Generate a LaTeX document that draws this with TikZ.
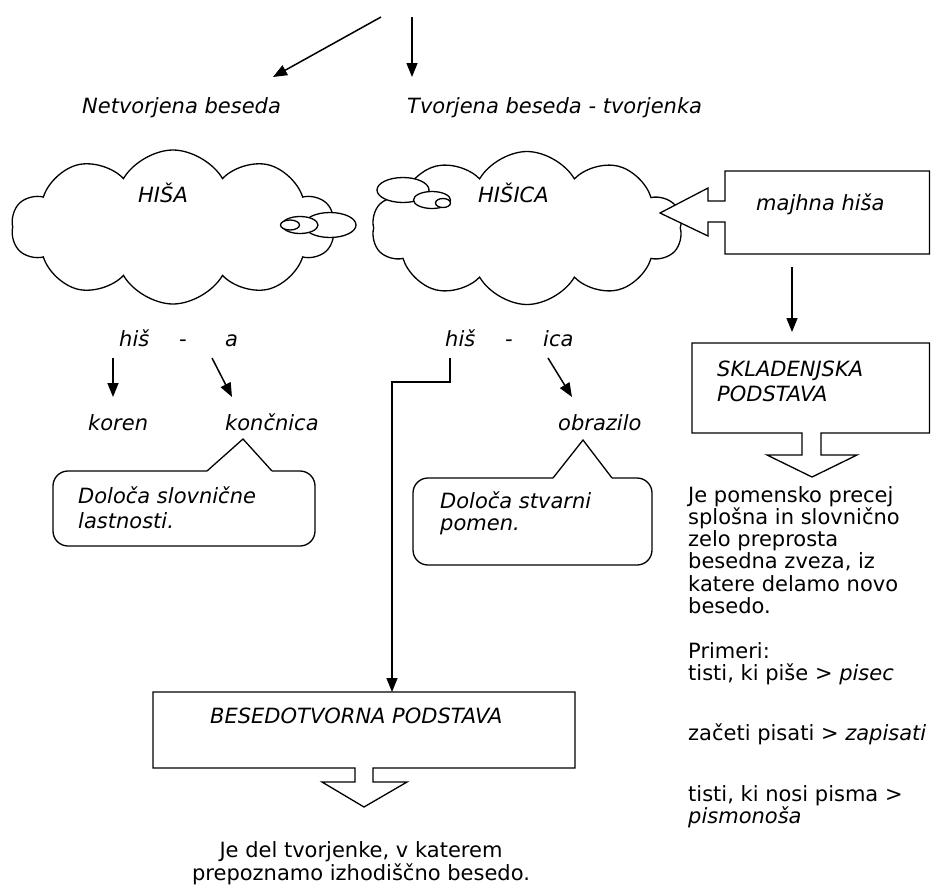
\documentclass[tikz,border=0pt]{standalone}
\usepackage{fontspec}
\setmainfont{DejaVu Sans}
\usetikzlibrary{
  arrows.meta,
  positioning,
  shapes.symbols,
}
\tikzset{
  >={Triangle[length=14pt,width=11pt]},
  lbl/.style={font=\fontsize{21}{25}\selectfont\itshape,inner sep=0pt,anchor=base west,align=left},
  plain/.style={font=\fontsize{21}{22.3}\selectfont,inner sep=0pt,anchor=base west,align=left},
  outline/.style={draw,line width=1.3pt,line join=miter},
  arr/.style={->,line width=1.5pt},
  bubble/.style={draw,line width=1.3pt,fill=white},
  thought/.style={cloud,draw,line width=1.3pt,cloud puffs=10,cloud puff arc=120,cloud ignores aspect,inner sep=0pt},
}

\begin{document}
\begin{tikzpicture}[x=1pt,y=-1pt]
      \useasboundingbox (0,0) rectangle (931,884);

      \coordinate (root1) at (381,17);
      \coordinate (root2) at (412,17);
      \coordinate (netvin) at (273,77);
      \coordinate (tvorin) at (412,77);
      \node[lbl] (netv) at (82,113) {Netvorjena beseda};
      \node[lbl] (tvor) at (407,113) {Tvorjena beseda - tvorjenka};
      \draw[arr] (root1) -- (netvin);
      \draw[arr] (root2) -- (tvorin);

      \node[thought,minimum width=323,minimum height=154] (cl1) at (173,227) {};
      \draw[bubble] (330,225) ellipse [x radius=26,y radius=12.5];
      \draw[bubble] (300,225) ellipse [x radius=18,y radius=8.5];
      \draw[bubble] (290,225) ellipse [x radius=9.5,y radius=5];
      \node[lbl] (hisa) at (138,202) {HIŠA};

      \node[thought,minimum width=310,minimum height=153] (cl2) at (527,228) {};
      \draw[bubble] (403,190) ellipse [x radius=26,y radius=12.5];
      \draw[bubble] (432,200) ellipse [x radius=18.5,y radius=8.5];
      \draw[bubble] (443,203) ellipse [x radius=7.5,y radius=4.5];
      \node[lbl] (hisica) at (478,202) {HIŠICA};

      \draw[outline,fill=white] (725,171) -- (929.5,171) -- (929.5,254) -- (725,254) -- (725,222)
        -- (708,222) -- (708,236) -- (660,213) -- (708,188) -- (708,201) -- (725,201) -- cycle;
      \node[lbl] (majhna) at (756,210) {majhna hiša};

      \coordinate (majhnaout) at (792,267);
      \coordinate (skladin) at (792,332);
      \draw[arr] (majhnaout) -- (skladin);

      \draw[outline] (692,343) -- (929.5,343) -- (929.5,433) -- (821,433) -- (821,455) -- (857,455)
        -- (812,477) -- (767,455) -- (802,455) -- (802,433) -- (692,433) -- cycle;
      \node[lbl] (sklad) at (717,401) {SKLADENJSKA\\PODSTAVA};

      \node[plain] (skladdef) at (688,613.5) {Je pomensko precej\\splošna in slovnično\\zelo preprosta\\besedna zveza, iz\\katere delamo novo\\besedo.};
      \node[plain] (primer1) at (688,680.3) {Primeri:\\tisti, ki piše > \textit{pisec}};
      \node[plain] (primer2) at (688,740) {začeti pisati > \textit{zapisati}};
      \node[plain] (primer3) at (688,823.3) {tisti, ki nosi pisma >\\\textit{pismonoša}};

      \node[lbl] (his1) at (119,346) {hiš};
      \node[lbl,anchor=base] (dash1) at (183,346) {-};
      \node[lbl] (end1) at (225,346) {a};
      \node[lbl] (his2) at (445,346) {hiš};
      \node[lbl,anchor=base] (dash2) at (509,346) {-};
      \node[lbl] (end2) at (543,346) {ica};

      \node[lbl] (koren) at (88,430) {koren};
      \node[lbl] (koncnica) at (225,430) {končnica};
      \node[lbl] (obrazilo) at (558,430) {obrazilo};

      \coordinate (his1out) at (113,358);
      \coordinate (korenin) at (113,397);
      \coordinate (end1out) at (212,358);
      \coordinate (koncin) at (232,397);
      \coordinate (end2out) at (548,358);
      \coordinate (obrin) at (572,397);
      \draw[arr] (his1out) -- (korenin);
      \draw[arr] (end1out) -- (koncin);
      \draw[arr] (end2out) -- (obrin);

      \draw[outline,rounded corners=15] (272,471) -- (315,471) -- (315,546) -- (53,546) -- (53,471) -- (207,471);
      \draw[outline] (207,471) -- (243,439) -- (272,471);
      \node[lbl] (slovn) at (78,528) {Določa slovnične\\lastnosti.};

      \draw[outline,rounded corners=15] (612,478) -- (652,478) -- (652,565) -- (413,565) -- (413,478) -- (553,478);
      \draw[outline] (553,478) -- (583,440) -- (612,478);
      \node[lbl,font=\fontsize{21}{22}\selectfont\itshape] (stvar) at (440,530) {Določa stvarni\\pomen.};

      \coordinate (his2out) at (450,358);
      \coordinate (besedin) at (392,692);
      \draw[arr] (his2out) -- (450,382) -| (besedin);

      \draw[outline] (153,692) -- (575,692) -- (575,768) -- (373,768) -- (373,782) -- (407,782)
        -- (364,807) -- (322,782) -- (355,782) -- (355,768) -- (153,768) -- cycle;
      \node[lbl] (besed) at (210,723) {BESEDOTVORNA PODSTAVA};
      \node[plain,anchor=base,align=center,font=\fontsize{21}{23}\selectfont] (besedopis) at (361,880)
        {Je del tvorjenke, v katerem\\prepoznamo izhodiščno besedo.};
\end{tikzpicture}
\end{document}
